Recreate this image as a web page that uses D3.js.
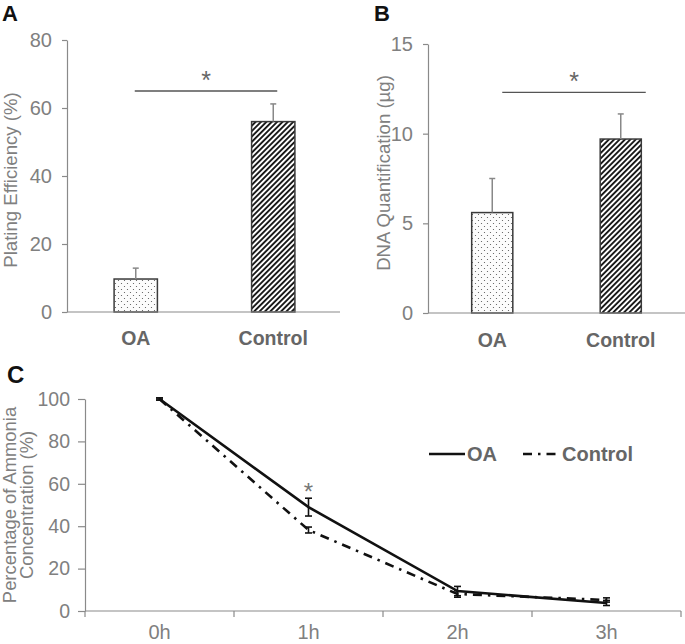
<!DOCTYPE html>
<html><head><meta charset="utf-8">
<script src="https://cdn.jsdelivr.net/npm/d3@7"></script>
<style>
html,body{margin:0;padding:0;background:#fff;}
svg{display:block;font-family:"Liberation Sans",Arial,sans-serif;}
</style></head>
<body>
<svg id="chart" width="685" height="644"></svg>
<script>
// ---- data ----
const barCategories = ["OA", "Control"];
const plateValues = [9.7, 56.0];
const plateErrors = [3.2, 5.2];
const plateTicks = [0, 20, 40, 60, 80];
const plateSig = 65;

const dnaValues = [5.6, 9.7];
const dnaErrors = [1.9, 1.4];
const dnaTicks = [0, 5, 10, 15];
const dnaSig = 12.3;

const timeLabels = ["0h", "1h", "2h", "3h"];
const oaValues = [100, 49, 9.4, 3.8];
const oaErrors = [0.5, 4.2, 2.2, 1.2];
const ctrlValues = [100, 38.2, 8.0, 5.2];
const ctrlErrors = [0.5, 1.4, 1.5, 1.0];
const ammoniaTicks = [0, 20, 40, 60, 80, 100];
const seriesNames = ["OA", "Control"];

const svg = d3.select("#chart");
const tickGray = "#808080", axisGray = "#8a8a8a", labGray = "#666666";

// patterns
const defs = svg.append("defs");
const dots = defs.append("pattern").attr("id", "dots").attr("patternUnits", "userSpaceOnUse")
  .attr("width", 6).attr("height", 6);
dots.append("rect").attr("width", 6).attr("height", 6).attr("fill", "#fcfcfc");
dots.append("circle").attr("cx", 1.5).attr("cy", 1.5).attr("r", 0.6).attr("fill", "#555");
dots.append("circle").attr("cx", 4.5).attr("cy", 4.5).attr("r", 0.6).attr("fill", "#555");
const hatch = defs.append("pattern").attr("id", "hatch").attr("patternUnits", "userSpaceOnUse")
  .attr("width", 3.8).attr("height", 3.8).attr("patternTransform", "rotate(45)");
hatch.append("rect").attr("width", 3.8).attr("height", 3.8).attr("fill", "#fff");
hatch.append("rect").attr("width", 1.9).attr("height", 3.8).attr("fill", "#1a1a1a");

function barPanel(opt) {
  const g = svg.append("g");
  const y = d3.scaleLinear().domain(opt.domain).range([opt.y0, opt.y1]);
  const x = d3.scalePoint().domain(barCategories).range([opt.x0, opt.x1]).padding(0.5);
  const bw = x.step() * opt.bwFrac;
  // y axis
  const ya = g.append("g").attr("transform", `translate(${opt.x0},0)`)
    .call(d3.axisLeft(y).tickValues(opt.ticks).tickSize(5).tickPadding(10).tickSizeOuter(0));
  ya.select(".domain").attr("stroke", axisGray).attr("stroke-width", 1.2);
  ya.selectAll(".tick line").attr("stroke", axisGray).attr("stroke-width", 1.2);
  ya.selectAll(".tick text").attr("fill", tickGray).attr("font-size", 20)
    .attr("font-family", "Liberation Sans, Arial, sans-serif");
  // bars
  const fills = ["url(#dots)", "url(#hatch)"];
  g.selectAll("rect.bar").data(opt.values).join("rect").attr("class", "bar")
    .attr("x", (d, i) => x(barCategories[i]) - bw / 2)
    .attr("y", d => y(d)).attr("width", bw).attr("height", d => y(0) - y(d))
    .attr("fill", (d, i) => fills[i]).attr("stroke", "#3a3a3a").attr("stroke-width", 1.5);
  // error bars (upward)
  opt.values.forEach((v, i) => {
    const cx = x(barCategories[i]);
    g.append("line").attr("x1", cx).attr("x2", cx).attr("y1", y(v)).attr("y2", y(v + opt.errors[i]))
      .attr("stroke", "#888").attr("stroke-width", 1.5);
    g.append("line").attr("x1", cx - 3).attr("x2", cx + 3).attr("y1", y(v + opt.errors[i])).attr("y2", y(v + opt.errors[i]))
      .attr("stroke", "#888").attr("stroke-width", 1.5);
  });
  // x baseline
  g.append("line").attr("x1", opt.x0).attr("x2", opt.xEnd).attr("y1", y(0)).attr("y2", y(0))
    .attr("stroke", axisGray).attr("stroke-width", 1.2);
  // x labels
  g.selectAll("text.xl").data(barCategories).join("text").attr("class", "xl")
    .attr("x", d => x(d)).attr("y", opt.y0 + opt.labOff).attr("text-anchor", "middle")
    .attr("font-size", 19.5).attr("font-weight", "bold").attr("fill", labGray).text(d => d);
  // significance
  const sx1 = x(barCategories[0]) + opt.sigL, sx2 = x(barCategories[1]) + opt.sigR;
  g.append("line").attr("x1", sx1).attr("x2", sx2).attr("y1", y(opt.sig)).attr("y2", y(opt.sig))
    .attr("stroke", "#555").attr("stroke-width", 1.3);
  g.append("text").attr("x", (sx1 + sx2) / 2).attr("y", y(opt.sig) - 2).attr("text-anchor", "middle")
    .attr("font-size", 25).attr("fill", "#666").text("*");
  // title
  g.append("text").attr("transform", `translate(${opt.titleX},${opt.titleY}) rotate(-90)`)
    .attr("text-anchor", "middle").attr("font-size", 18.6).attr("fill", tickGray).text(opt.title);
  // panel letter
  g.append("text").attr("x", opt.letterX).attr("y", 21).attr("font-size", 22).attr("font-weight", "bold")
    .attr("fill", "#111").text(opt.letter);
}

barPanel({domain: [0, 80], y0: 312, y1: 40, x0: 67, x1: 342, xEnd: 340, bwFrac: 0.315,
  ticks: plateTicks, values: plateValues, errors: plateErrors, sig: plateSig, sigL: -1, sigR: 4,
  title: "Plating Efficiency (%)", titleX: 17, titleY: 180, letter: "A", letterX: 2, labOff: 33});
barPanel({domain: [0, 15], y0: 313, y1: 44, x0: 428, x1: 685, xEnd: 685, bwFrac: 0.32,
  ticks: dnaTicks, values: dnaValues, errors: dnaErrors, sig: dnaSig, sigL: 10, sigR: 25,
  title: "DNA Quantification (\u00b5g)", titleX: 390, titleY: 173, letter: "B", letterX: 374, labOff: 34});

// ---- panel C ----
const gc = svg.append("g");
const xc = d3.scaleBand().domain(timeLabels).range([85, 681]).padding(0);
const yc = d3.scaleLinear().domain([0, 100]).range([611, 399]);
const cx = d => xc(d) + xc.bandwidth() / 2;

const yca = gc.append("g").attr("transform", "translate(85,0)")
  .call(d3.axisLeft(yc).tickValues(ammoniaTicks).tickSize(7).tickPadding(8).tickSizeOuter(0));
yca.select(".domain").attr("stroke", axisGray).attr("stroke-width", 1.2);
yca.selectAll(".tick line").attr("stroke", axisGray).attr("stroke-width", 1.2);
yca.selectAll(".tick text").attr("fill", tickGray).attr("font-size", 19.5)
  .attr("font-family", "Liberation Sans, Arial, sans-serif");

gc.append("line").attr("x1", 85).attr("x2", 681).attr("y1", yc(0)).attr("y2", yc(0))
  .attr("stroke", axisGray).attr("stroke-width", 1.2);
const bounds = timeLabels.map(d => xc(d)).concat([xc(timeLabels[3]) + xc.bandwidth()]);
gc.selectAll("line.xt").data(bounds).join("line").attr("class", "xt")
  .attr("x1", d => d).attr("x2", d => d).attr("y1", yc(0)).attr("y2", yc(0) + 6)
  .attr("stroke", axisGray).attr("stroke-width", 1.2);
gc.selectAll("text.xl").data(timeLabels).join("text").attr("class", "xl")
  .attr("x", d => cx(d)).attr("y", 639).attr("text-anchor", "middle")
  .attr("font-size", 20).attr("fill", tickGray).text(d => d);

const line = d3.line().x((d, i) => cx(timeLabels[i])).y(d => yc(d));
function errBars(vals, errs) {
  vals.forEach((v, i) => {
    const x0 = cx(timeLabels[i]);
    gc.append("line").attr("x1", x0).attr("x2", x0).attr("y1", yc(v - errs[i])).attr("y2", yc(v + errs[i]))
      .attr("stroke", "#111").attr("stroke-width", 1.6);
    [v - errs[i], v + errs[i]].forEach(e => gc.append("line").attr("x1", x0 - 3.5).attr("x2", x0 + 3.5)
      .attr("y1", yc(e)).attr("y2", yc(e)).attr("stroke", "#111").attr("stroke-width", 1.6));
  });
}
gc.append("path").datum(ctrlValues).attr("d", line).attr("fill", "none").attr("stroke", "#111")
  .attr("stroke-width", 2.6).attr("stroke-dasharray", "9,6,2.5,6");
errBars(ctrlValues, ctrlErrors);
gc.append("path").datum(oaValues).attr("d", line).attr("fill", "none").attr("stroke", "#111")
  .attr("stroke-width", 2.6);
errBars(oaValues, oaErrors);

gc.append("text").attr("x", cx(timeLabels[1])).attr("y", yc(oaValues[1] + oaErrors[1]) + 2)
  .attr("text-anchor", "middle").attr("font-size", 24).attr("fill", "#777").text("*");

// legend
const leg = gc.append("g");
leg.append("line").attr("x1", 429).attr("x2", 465).attr("y1", 454).attr("y2", 454)
  .attr("stroke", "#111").attr("stroke-width", 2.6);
leg.append("text").attr("x", 467).attr("y", 461).attr("font-size", 20).attr("font-weight", "bold")
  .attr("fill", labGray).text(seriesNames[0]);
leg.append("line").attr("x1", 523).attr("x2", 561).attr("y1", 454).attr("y2", 454)
  .attr("stroke", "#111").attr("stroke-width", 2.6).attr("stroke-dasharray", "9,6,2.5,6");
leg.append("text").attr("x", 562).attr("y", 461).attr("font-size", 20).attr("font-weight", "bold")
  .attr("fill", labGray).text(seriesNames[1]);

// title C
const tc = gc.append("text").attr("transform", "translate(16,505) rotate(-90)")
  .attr("text-anchor", "middle").attr("font-size", 18.4).attr("fill", tickGray);
tc.append("tspan").attr("x", 0).attr("dy", 0).text("Percentage of Ammonia");
tc.append("tspan").attr("x", 0).attr("dy", 17).text("Concentration (%)");
gc.append("text").attr("x", 7).attr("y", 383).attr("font-size", 24).attr("font-weight", "bold")
  .attr("fill", "#111").text("C");
</script>
</body></html>
